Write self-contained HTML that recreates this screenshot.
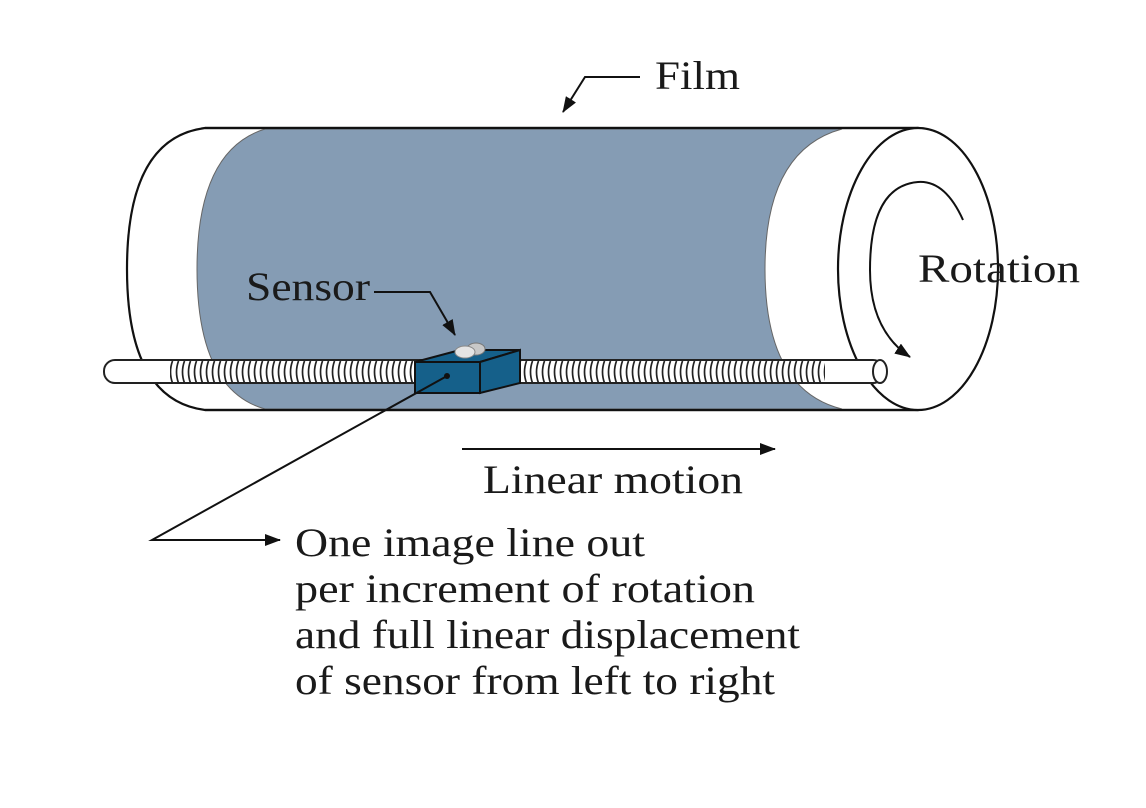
<!DOCTYPE html>
<html><head><style>
html,body{margin:0;padding:0;background:#fff;}
svg{display:block;}
text{font-family:"Liberation Serif",serif;fill:#1a1a1a;}
</style></head><body>
<svg width="1146" height="808" viewBox="0 0 1146 808" xmlns="http://www.w3.org/2000/svg">
<defs>
<marker id="ab" markerWidth="16" markerHeight="12" refX="15" refY="6" orient="auto" markerUnits="userSpaceOnUse">
<path d="M0,0 L16,6 L0,12 z" fill="#111"/>
</marker>
<pattern id="thr" width="6" height="24" patternUnits="userSpaceOnUse">
<rect width="6" height="24" fill="#fff"/>
<path d="M4.5,1 Q0.5,12 4.5,23" fill="none" stroke="#222" stroke-width="1.7"/>
</pattern>
</defs>
<path d="M205,128 L918,128 L918,410 L205,410 Q127,400 127,269 Q127,138 205,128 Z" fill="#fff" stroke="#111" stroke-width="2.2"/>
<path d="M265,129 L842,129 Q765,150 765,269 Q765,390 842,409 L265,409 Q197,390 197,269 Q197,150 265,129 Z" fill="#859cb4" stroke="#666" stroke-width="1"/>
<line x1="205" y1="128" x2="918" y2="128" stroke="#111" stroke-width="2.2"/>
<line x1="205" y1="410" x2="918" y2="410" stroke="#111" stroke-width="2.2"/>
<ellipse cx="918" cy="269" rx="80" ry="141" fill="#fff" stroke="#111" stroke-width="2.2"/>
<path d="M963,220 Q945,180 918,182 Q870,186 870,270 Q870,330 910,357" fill="none" stroke="#111" stroke-width="2" marker-end="url(#ab)"/>
<rect x="104" y="360" width="780" height="23" rx="11" fill="#fff" stroke="#222" stroke-width="2"/>
<rect x="170" y="361" width="245" height="21" fill="url(#thr)"/>
<rect x="497" y="361" width="328" height="21" fill="url(#thr)"/>
<ellipse cx="880" cy="371.5" rx="7" ry="11.5" fill="#fff" stroke="#222" stroke-width="2"/>
<path d="M415,362 L460,350 L520,350 L480,362 Z" fill="#15608a" stroke="#111" stroke-width="2"/>
<path d="M480,362 L520,350 L520,383 L480,393 Z" fill="#15608a" stroke="#111" stroke-width="2"/>
<rect x="415" y="362" width="65" height="31" fill="#15608a" stroke="#111" stroke-width="2"/>
<ellipse cx="476" cy="349" rx="9" ry="6" fill="#c8c8c8" stroke="#777"/>
<ellipse cx="465" cy="352" rx="10" ry="6" fill="#e4e4e4" stroke="#888"/>
<circle cx="447" cy="376" r="3" fill="#111"/>
<polyline points="640,77 585,77 563,112" fill="none" stroke="#111" stroke-width="2" marker-end="url(#ab)"/>
<polyline points="374,292 430,292 455,335" fill="none" stroke="#111" stroke-width="2" marker-end="url(#ab)"/>
<line x1="462" y1="449" x2="775" y2="449" stroke="#111" stroke-width="2" marker-end="url(#ab)"/>
<polyline points="447,376 152,540 280,540" fill="none" stroke="#111" stroke-width="2" marker-end="url(#ab)"/>
<text x="655" y="89" font-size="40" textLength="85" lengthAdjust="spacingAndGlyphs">Film</text>
<text x="918" y="282" font-size="40" textLength="162" lengthAdjust="spacingAndGlyphs">Rotation</text>
<text x="246" y="300" font-size="40" textLength="124" lengthAdjust="spacingAndGlyphs">Sensor</text>
<text x="483" y="493" font-size="40" textLength="260" lengthAdjust="spacingAndGlyphs">Linear motion</text>
<text x="295" y="556" font-size="40" textLength="350" lengthAdjust="spacingAndGlyphs">One image line out</text>
<text x="295" y="602" font-size="40" textLength="460" lengthAdjust="spacingAndGlyphs">per increment of rotation</text>
<text x="295" y="648" font-size="40" textLength="505" lengthAdjust="spacingAndGlyphs">and full linear displacement</text>
<text x="295" y="694" font-size="40" textLength="480" lengthAdjust="spacingAndGlyphs">of sensor from left to right</text>
</svg>
</body></html>
